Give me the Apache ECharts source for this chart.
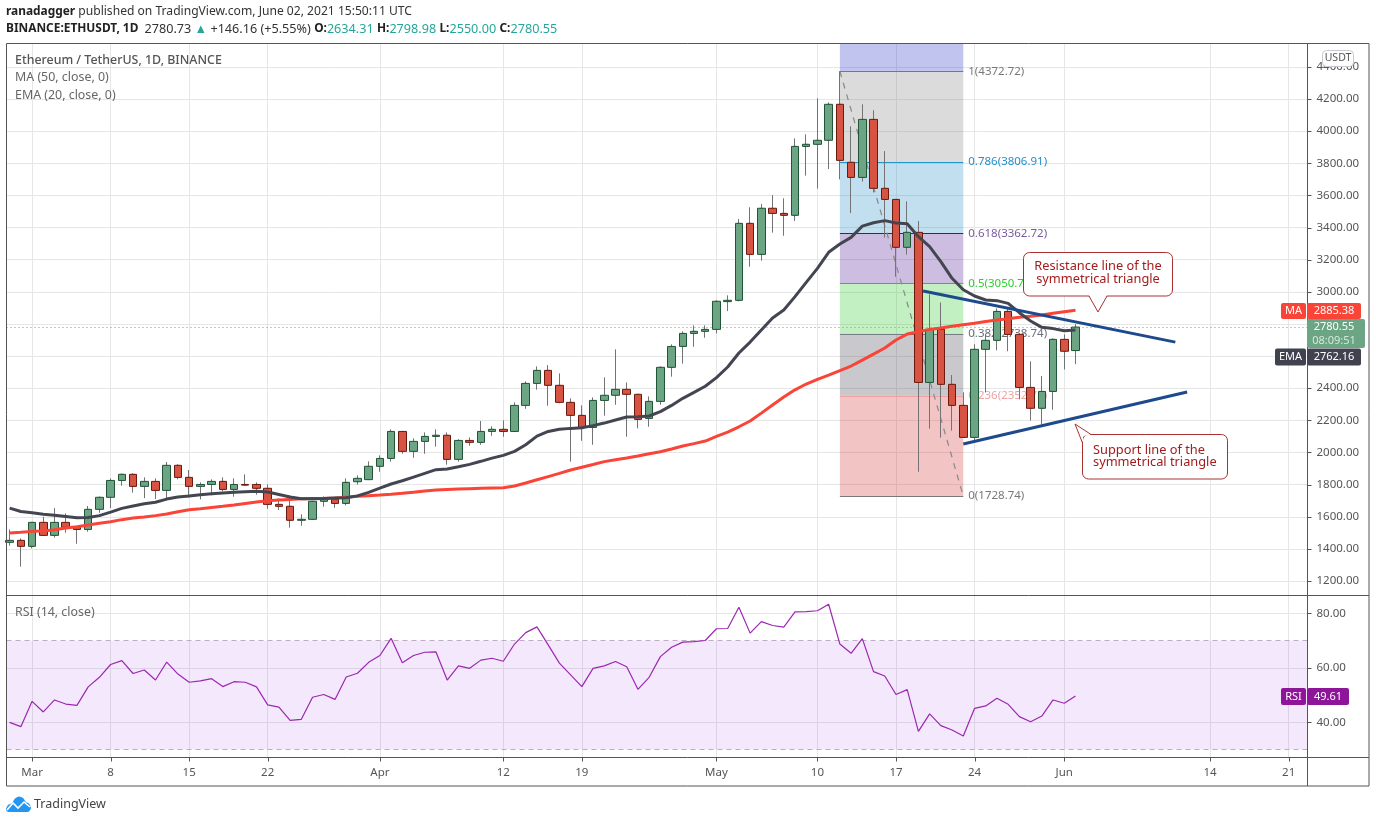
<!DOCTYPE html>
<html><head><meta charset="utf-8">
<style>html,body{margin:0;padding:0;background:#fff}#c{width:1376px;height:823px}</style>
<script src="https://cdn.jsdelivr.net/npm/echarts@6/dist/echarts.min.js"></script>
</head><body><div id="c"></div>
<script>
// Day index 0 = 27 Feb 2021, 95 = 2 Jun 2021
const opens=[1441,1453,1416,1565,1484,1565,1534,1521,1646,1721,1826,1864,1789,1820,1764,1920,1845,1789,1801,1820,1770,1801,1801,1777,1677,1665,1578,1584,1696,1708,1683,1818,1831,1914,1963,2131,2007,2069,2100,2107,1957,2075,2063,2131,2144,2131,2293,2430,2511,2418,2312,2231,2156,2324,2356,2393,2362,2212,2318,2530,2660,2741,2754,2766,2939,2947,3426,3233,3520,3488,3476,3905,3918,3943,4167,3806,3712,4073,3644,3575,3277,3370,2436,2766,2424,2293,2094,2642,2698,2878,2735,2405,2275,2380,2704,2634.31];
const closes=[1453,1416,1565,1484,1565,1534,1521,1646,1721,1826,1864,1789,1820,1764,1920,1845,1789,1801,1820,1770,1801,1797,1777,1677,1665,1578,1584,1696,1708,1683,1814,1839,1914,1963,2131,2007,2069,2100,2107,1957,2075,2063,2131,2144,2131,2293,2430,2511,2418,2312,2231,2156,2324,2356,2393,2362,2206,2318,2530,2660,2741,2754,2766,2941,2947,3426,3233,3520,3488,3476,3905,3918,3943,4167,3818,3712,4073,3644,3575,3277,3370,2436,2766,2424,2293,2094,2642,2698,2878,2735,2405,2275,2380,2704,2630,2780.55];
const lows=[1420,1289,1403,1484,1470,1501,1432,1507,1625,1654,1793,1750,1716,1710,1716,1833,1720,1708,1733,1758,1725,1797,1737,1650,1642,1532,1544,1584,1663,1656,1671,1800,1831,1880,1943,1992,1967,1992,2036,1924,1943,2042,2048,2104,2098,2131,2272,2391,2291,2306,1943,2073,2048,2229,2297,2098,2150,2160,2297,2472,2553,2658,2714,2741,2880,2940,3156,3194,3368,3349,3441,3723,3642,3764,3700,3490,3686,3619,3337,3094,3231,1880,2148,2092,2136,2090,2067,2374,2636,2630,2331,2198,2175,2266,2517,2550];
const highs=[1521,1465,1567,1600,1654,1621,1540,1667,1725,1839,1868,1870,1845,1839,1941,1926,1891,1814,1833,1845,1839,1864,1814,1801,1714,1733,1615,1696,1727,1721,1839,1858,1945,1982,2144,2131,2088,2125,2144,2125,2082,2094,2196,2163,2200,2312,2443,2536,2544,2492,2337,2293,2343,2468,2642,2436,2362,2349,2536,2673,2754,2791,2791,2947,2978,3453,3526,3547,3602,3582,3955,3980,4204,4179,4372.72,4030,4167,4130,3876,3575,3563,3441,2984,2934,2482,2374,2673,2735,2897,2893,2735,2567,2476,2710,2735,2798.98];
const ema20=[1654,1633,1625,1615,1609,1602,1594,1596,1607,1629,1652,1667,1681,1690,1710,1723,1729,1737,1743,1748,1752,1756,1758,1754,1739,1723,1712,1712,1714,1717,1718,1730,1752,1778,1804,1824,1847,1870,1893,1897,1911,1926,1945,1965,1982,2007,2048,2102,2131,2144,2150,2154,2167,2183,2202,2221,2223,2227,2254,2293,2337,2374,2412,2466,2532,2619,2687,2762,2837,2887,2970,3059,3146,3246,3298,3339,3409,3430,3443,3428,3424,3343,3281,3188,3084,3013,2974,2949,2945,2928,2870,2818,2779,2771,2758,2762.16];
const ma50=[1499,1503,1509,1511,1519,1530,1538,1548,1559,1569,1582,1592,1598,1607,1617,1631,1644,1650,1658,1665,1673,1683,1692,1700,1704,1708,1712,1714,1714,1717,1722,1727,1731,1735,1740,1746,1753,1760,1766,1769,1772,1775,1777,1779,1781,1791,1810,1830,1850,1870,1891,1908,1925,1943,1955,1966,1978,1992,2005,2022,2040,2055,2071,2100,2127,2160,2196,2245,2295,2345,2390,2426,2455,2482,2510,2538,2575,2612,2650,2700,2737,2752,2766,2775,2785,2795,2804,2815,2825,2833,2841,2848,2856,2866,2876,2885.38];
const rsi14=[40.0,38.4,47.7,43.8,48.2,46.7,46.2,53.0,56.5,61.2,62.6,57.9,59.2,55.5,62.1,57.7,54.7,55.2,56.0,53.1,54.9,54.7,53.0,46.4,45.6,40.7,41.1,49.2,50.2,48.4,56.6,58.0,62.0,64.5,70.8,61.8,64.5,65.7,65.8,55.5,60.7,59.8,62.8,63.5,62.4,68.7,72.9,75.0,68.4,61.7,57.4,53.1,59.8,60.7,62.3,60.4,52.1,56.5,64.1,67.5,69.4,69.6,70.0,74.3,74.4,82.2,72.7,76.9,75.5,74.9,80.5,80.6,80.9,83.3,68.7,65.3,70.7,58.6,57.0,50.2,52.0,36.7,43.1,38.8,37.2,35.0,45.1,46.0,48.8,46.6,42.1,40.2,42.3,48.2,47.0,49.61];
const dayTicks=[2,9,16,23,33,44,51,63,72,79,86,94,107,114];
const dayTickLabels=['Mar','8','15','22','Apr','12','19','May','10','17','24','Jun','14','21'];
const priceTicks=[1200,1400,1600,1800,2000,2200,2400,2600,2800,3000,3200,3400,3600,3800,4000,4200,4400];
const rsiTicks=[40,60,80];
const fibRatios=['1','0.786','0.618','0.5','0.382','0.236','0'];
const fibPrices=[4372.72,3806.91,3362.72,3050.73,2738.74,2352.75,1728.74];
const resistanceLine=[[81.42,3005],[103.9,2687]];
const supportLine=[[85,2053],[104.95,2376]];

const FONT='"Noto Sans"';
const fibLine=['#787878','#2196c8','#4a148c','#22cc22','#787b86','#f0a0a0','#787878'];
const fibText=['#787878','#2390c8','#7a5a9e','#2ccf2c','#6a6d78','#eea4a4','#787878'];
const fibFill=['rgba(135,135,135,0.3)','rgba(52,148,205,0.3)','rgba(88,35,151,0.3)','rgba(52,205,52,0.3)','rgba(75,75,91,0.3)','rgba(212,58,58,0.3)'];
const FX0=74,FX1=85,X0=-0.28,X1=115.68,PMIN=1113,PMAX=4545.4;
const idx=opens.map((_,i)=>i);
const pair=a=>a.map((v,i)=>[i,v]);
const fibAreas=[[{xAxis:FX0,yAxis:PMAX,itemStyle:{color:'rgba(52,58,205,0.3)'}},{xAxis:FX1,yAxis:fibPrices[0]}]]
 .concat(fibFill.map((c,k)=>[{xAxis:FX0,yAxis:fibPrices[k],itemStyle:{color:c}},{xAxis:FX1,yAxis:fibPrices[k+1]}]));
const fibLines=fibPrices.map((p,k)=>[
 {coord:[FX0,p],lineStyle:{color:fibLine[k],width:1,type:'solid'},
  label:{show:true,position:'end',distance:5,formatter:fibRatios[k]+'('+p.toFixed(2)+')',color:fibText[k],fontFamily:FONT,fontSize:11.5}},
 {coord:[FX1,p]}]);

const grey='#555';
const txt=(x,y,text,o)=>({type:'text',x,y,z:50,silent:true,style:Object.assign({text,fill:grey,font:'12.4px '+FONT,textVerticalAlign:'middle'},o||{})});
const box=(x,y,w,h,fill,o)=>({type:'rect',z:45,silent:true,shape:Object.assign({x,y,width:w,height:h,r:2},o||{}),style:{fill}});
const rule=(x1,y1,x2,y2)=>({type:'line',z:44,silent:true,shape:{x1,y1,x2,y2},style:{stroke:'#555',lineWidth:1}});
const CALL='#a83232',CALLT='#a31c1c';
const graphics=[
 {type:'rect',z:44,silent:true,shape:{x:6.5,y:43.5,width:1362.5,height:742.5},style:{fill:null,stroke:'#555',lineWidth:1}},
 rule(1307.5,43.5,1307.5,786),rule(6.5,595.5,1369,595.5),rule(6.5,757.5,1369,757.5),
 txt(6,12,'{b|ranadagger} published on TradingView.com, June 02, 2021 15:50:11 UTC',{font:'12.1px '+FONT,fill:'#333',rich:{b:{font:'bold 11.9px '+FONT,fill:'#222'}}}),
 txt(6,29,'{b|BINANCE:ETHUSDT, 1D  }2780.73 {g|▲} +146.16 (+5.55%) {b|O:}{g|2634.31} {b|H:}{g|2798.98} {b|L:}{g|2550.00} {b|C:}{g|2780.55}',{font:'12.65px '+FONT,fill:'#333',rich:{b:{font:'bold 11.9px '+FONT,fill:'#222'},g:{font:'12.65px '+FONT,fill:'#26a69a'}}}),
 txt(15,60,'Ethereum / TetherUS, 1D, BINANCE',{font:'500 12.4px '+FONT,fill:'#555'}),
 txt(15,77,'MA (50, close, 0)',{fill:'#666'}),
 txt(15,95,'EMA (20, close, 0)',{fill:'#666'}),
 txt(15,612,'RSI (14, close)',{fill:'#666'}),
 {type:'rect',z:46,silent:true,shape:{x:1322.5,y:50.5,width:31,height:16,r:4},style:{fill:'#fff',stroke:'#c8c8d0',lineWidth:1}},
 txt(1338,58.5,'USDT',{font:'10.5px '+FONT,textAlign:'center',fill:'#555',z:47}),
 box(1281,303,25,16,'#f94437'),box(1307,303,54,16,'#f94437'),
 txt(1293.5,311,'MA',{fill:'#fff',textAlign:'center',font:'11px '+FONT}),txt(1334,311,'2885.38',{fill:'#fff',textAlign:'center',font:'11px '+FONT}),
 box(1307,319,58,29,'#6ba583'),
 txt(1334,327,'2780.55',{fill:'#fff',textAlign:'center',font:'11px '+FONT}),txt(1334,341,'08:09:51',{fill:'#d5e8dc',textAlign:'center',font:'11px '+FONT}),
 box(1275,348.5,31,17,'#40424f'),box(1307,348.5,54,17,'#40424f'),
 txt(1290.5,357,'EMA',{fill:'#fff',textAlign:'center',font:'11px '+FONT}),txt(1334,357,'2762.16',{fill:'#fff',textAlign:'center',font:'11px '+FONT}),
 box(1281,688,25,17,'#8e1599'),box(1307,688,42,17,'#8e1599'),
 txt(1293.5,697,'RSI',{fill:'#fff',textAlign:'center',font:'11px '+FONT}),txt(1328,697,'49.61',{fill:'#fff',textAlign:'center',font:'11px '+FONT}),
 {type:'rect',z:46,silent:true,shape:{x:1023.5,y:252.5,width:149,height:43.5,r:6},style:{fill:'#fff',stroke:CALL,lineWidth:1}},
 {type:'polygon',z:47,silent:true,shape:{points:[[1089,295],[1107,295],[1098,312]]},style:{fill:'#fff'}},
 {type:'polyline',z:47,silent:true,shape:{points:[[1089,296],[1098,312],[1107,296]]},style:{fill:null,stroke:CALL,lineWidth:1}},
 txt(1098,266.5,'Resistance line of the',{textAlign:'center',fill:CALLT,font:'12.8px '+FONT}),
 txt(1098,279,'symmetrical triangle',{textAlign:'center',fill:CALLT,font:'12.8px '+FONT}),
 {type:'rect',z:46,silent:true,shape:{x:1082.5,y:434.5,width:145,height:44.5,r:6},style:{fill:'#fff',stroke:CALL,lineWidth:1}},
 {type:'polygon',z:47,silent:true,shape:{points:[[1083,436],[1091,435],[1075,424],[1083,443]]},style:{fill:'#fff'}},
 {type:'polyline',z:47,silent:true,shape:{points:[[1091,434.5],[1075,424],[1082.5,443]]},style:{fill:null,stroke:CALL,lineWidth:1}},
 txt(1093,450,'Support line of the',{fill:CALLT,font:'12.8px '+FONT}),
 txt(1093,462,'symmetrical triangle',{fill:CALLT,font:'12.8px '+FONT}),
 {type:'polygon',z:46,silent:true,shape:{points:[[6,809],[8,805],[12,803],[15,798.5],[19,796.5],[23,798],[26,802],[29,803.5],[31,808],[29,811.5],[26,812],[10,812],[7,811.5]],smooth:0.25},style:{fill:'#2196f3'}},
 {type:'polyline',z:47,silent:true,shape:{points:[[7,810],[13,803],[18,808],[24,802],[30,807]]},style:{fill:null,stroke:'#fff',lineWidth:1.6}},
 txt(34,804.5,'TradingView',{font:'12.5px '+FONT,fill:'#444'})
];

const chart=echarts.init(document.getElementById('c'),null,{renderer:'canvas'});
const yAxisBase={type:'value',position:'right',axisLine:{show:false},splitLine:{show:true,lineStyle:{color:'#e6e6e6',width:1}}};
const yLabel={margin:9,color:'#555',fontFamily:FONT,fontSize:11.5,padding:[3,0,0,0],formatter:v=>v.toFixed(2)};
chart.setOption({
 animation:false,backgroundColor:'#fff',
 grid:[{left:6.5,top:43.5,width:1301,height:551.5},{left:6.5,top:595.5,width:1301,height:162}],
 xAxis:[
  {type:'value',gridIndex:0,min:X0,max:X1,axisLine:{show:false},axisTick:{show:false,customValues:dayTicks},axisLabel:{show:false,customValues:dayTicks},splitLine:{show:true,lineStyle:{color:'#e6e6e6',width:1}}},
  {type:'value',gridIndex:1,min:X0,max:X1,axisLine:{show:false},
   axisTick:{show:false,customValues:dayTicks},
   axisLabel:{show:true,customValues:dayTicks,margin:9,color:'#555',fontFamily:FONT,fontSize:11.5,formatter:v=>dayTickLabels[dayTicks.indexOf(Math.round(v))]||''},
   splitLine:{show:true,lineStyle:{color:'#e6e6e6',width:1}}}],
 yAxis:[
  Object.assign({},yAxisBase,{gridIndex:0,min:PMIN,max:PMAX,axisTick:{show:false,customValues:priceTicks},axisLabel:Object.assign({customValues:priceTicks},yLabel)}),
  Object.assign({},yAxisBase,{gridIndex:1,min:27.1,max:86.5,axisTick:{show:false,customValues:rsiTicks},axisLabel:Object.assign({customValues:rsiTicks},yLabel)})],
 series:[
  {name:'Fib',type:'line',xAxisIndex:0,yAxisIndex:0,z:3,symbol:'none',silent:true,
   data:[[FX0,fibPrices[0]],[FX1,fibPrices[6]]],lineStyle:{color:'#888',type:[6,6],width:1.2},
   markArea:{silent:true,z:1,data:fibAreas},
   markLine:{silent:true,z:3,symbol:'none',data:fibLines}},
  {name:'Wicks',type:'candlestick',xAxisIndex:0,yAxisIndex:0,z:5,barWidth:3,silent:true,
   data:idx.map(i=>[i,opens[i],closes[i],lows[i],highs[i]]),
   itemStyle:{color:'#737375',color0:'#737375',borderColor:'#737375',borderColor0:'#737375',borderWidth:1},
   markLine:{silent:true,symbol:'none',z:4,label:{show:false},lineStyle:{color:'#6ba583',type:[1,3],width:1},data:[{yAxis:closes[95]}]}},
  {name:'Bodies',type:'candlestick',xAxisIndex:0,yAxisIndex:0,z:6,barWidth:8,silent:true,
   data:idx.map(i=>[i,opens[i],closes[i],Math.min(opens[i],closes[i]),Math.max(opens[i],closes[i])]),
   itemStyle:{color:'#6ba583',color0:'#d75442',borderColor:'#225437',borderColor0:'#6b1a10',borderWidth:1}},
  {name:'MA 50',type:'line',xAxisIndex:0,yAxisIndex:0,z:7,symbol:'none',data:pair(ma50),lineStyle:{color:'#f94437',width:3}},
  {name:'EMA 20',type:'line',xAxisIndex:0,yAxisIndex:0,z:8,symbol:'none',data:pair(ema20),lineStyle:{color:'#434651',width:3}},
  {name:'Resistance',type:'line',xAxisIndex:0,yAxisIndex:0,z:9,symbol:'none',data:resistanceLine,lineStyle:{color:'#1c4a8c',width:3}},
  {name:'Support',type:'line',xAxisIndex:0,yAxisIndex:0,z:9,symbol:'none',data:supportLine,lineStyle:{color:'#1c4a8c',width:3}},
  {name:'RSI',type:'line',xAxisIndex:1,yAxisIndex:1,z:6,symbol:'none',data:pair(rsi14),lineStyle:{color:'#9c27b0',width:1.2},
   markArea:{silent:true,z:1,itemStyle:{color:'rgba(135,0,225,0.09)'},data:[[{xAxis:X0,yAxis:70},{xAxis:X1,yAxis:30}]]},
   markLine:{silent:true,z:2,symbol:'none',label:{show:false},lineStyle:{color:'#bdaec2',type:[5,4],width:1},data:[{yAxis:70},{yAxis:30}]}}
 ],
 graphic:graphics
});
// Axis tick marks placed through the chart's own scales
const tickMarks=[];
priceTicks.forEach(v=>{const y=Math.round(chart.convertToPixel({yAxisIndex:0},v))+0.5;tickMarks.push(rule(1307.5,y,1311.5,y));});
rsiTicks.forEach(v=>{const y=Math.round(chart.convertToPixel({yAxisIndex:1},v))+0.5;tickMarks.push(rule(1307.5,y,1311.5,y));});
dayTicks.forEach(v=>{const x=Math.round(chart.convertToPixel({xAxisIndex:1},v))+0.5;tickMarks.push(rule(x,757.5,x,761.5));});
chart.setOption({graphic:graphics.concat(tickMarks)});
</script></body></html>
